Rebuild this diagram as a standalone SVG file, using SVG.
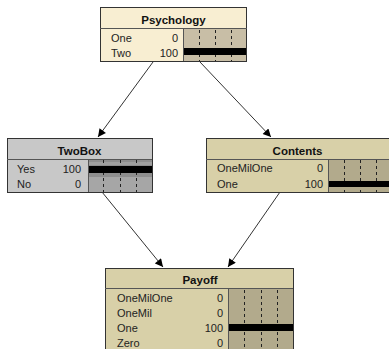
<svg xmlns="http://www.w3.org/2000/svg" width="389" height="349" viewBox="0 0 389 349">
<defs>
<marker id="ah" viewBox="0 0 10 10" refX="10" refY="5" markerWidth="9" markerHeight="8" markerUnits="userSpaceOnUse" orient="auto">
<path d="M0,0 L10,5 L0,10 z" fill="#000"/>
</marker>
<style>
.box{stroke:#333;stroke-width:1}
.sep{stroke:#555;stroke-width:1}
.title{font-family:"Liberation Sans",Arial,sans-serif;font-size:11.5px;font-weight:bold;fill:#111;text-anchor:middle}
.lbl{font-family:"Liberation Sans",Arial,sans-serif;font-size:11px;fill:#222}
.val{font-family:"Liberation Sans",Arial,sans-serif;font-size:11px;fill:#222;text-anchor:end}
.dash{stroke:#222;stroke-width:1;stroke-dasharray:3,3}
.edge{stroke:#333;stroke-width:1;fill:none;marker-end:url(#ah)}
</style>
</defs>
<rect width="389" height="349" fill="#fff"/>
<g id="connectors">
<line class="edge" x1="153" y1="62" x2="98" y2="137"/>
<line class="edge" x1="200" y1="62" x2="271" y2="137"/>
<line class="edge" x1="102" y1="192" x2="163" y2="267"/>
<line class="edge" x1="280" y1="192" x2="228" y2="267"/>
</g>
<g id="Psychology">
<rect class="box" x="100.5" y="7.5" width="146" height="54" fill="#F8EED2"/>
<rect x="183" y="29" width="63" height="32" fill="#C8BEA6"/>
<line class="sep" x1="100" y1="28.5" x2="247" y2="28.5"/>
<line class="sep" x1="183.5" y1="29" x2="183.5" y2="61"/>
<line class="dash" x1="199.5" y1="30" x2="199.5" y2="61"/>
<line class="dash" x1="215.5" y1="30" x2="215.5" y2="61"/>
<line class="dash" x1="231.5" y1="30" x2="231.5" y2="61"/>
<rect x="184" y="48" width="62" height="7" fill="#000"/>
<text class="title" x="173.5" y="24">Psychology</text>
<text class="lbl" x="111" y="42">One</text><text class="val" x="178" y="42">0</text>
<text class="lbl" x="111" y="57">Two</text><text class="val" x="178" y="57">100</text>
</g>
<g id="TwoBox">
<rect class="box" x="7.5" y="138.5" width="145" height="54" fill="#C8C8C8"/>
<rect x="88" y="160" width="64" height="32" fill="#A6A6A6"/>
<rect x="88" y="160" width="64" height="17" fill="#8E8E8E"/>
<rect x="88" y="162" width="64" height="3" fill="#A0A0A0"/>
<line class="sep" x1="7" y1="159.5" x2="152" y2="159.5"/>
<line class="sep" x1="88.5" y1="160" x2="88.5" y2="192"/>
<line class="dash" x1="103.5" y1="160" x2="103.5" y2="192"/>
<line class="dash" x1="120.5" y1="160" x2="120.5" y2="192"/>
<line class="dash" x1="136.5" y1="160" x2="136.5" y2="192"/>
<rect x="89" y="166" width="63" height="7" fill="#000"/>
<text class="title" x="79.5" y="155">TwoBox</text>
<text class="lbl" x="17" y="173">Yes</text><text class="val" x="81" y="173">100</text>
<text class="lbl" x="17" y="188">No</text><text class="val" x="81" y="188">0</text>
</g>
<g id="Contents">
<rect class="box" x="206.5" y="138.5" width="184" height="54" fill="#D8D0A8"/>
<rect x="328" y="160" width="61" height="32" fill="#B2AA8C"/>
<line class="sep" x1="206" y1="159.5" x2="389" y2="159.5"/>
<line class="sep" x1="328.5" y1="160" x2="328.5" y2="192"/>
<line class="dash" x1="344.5" y1="160" x2="344.5" y2="192"/>
<line class="dash" x1="360.5" y1="160" x2="360.5" y2="192"/>
<line class="dash" x1="376.5" y1="160" x2="376.5" y2="192"/>
<rect x="329" y="181" width="60" height="6" fill="#000"/>
<text class="title" x="297.5" y="155">Contents</text>
<text class="lbl" x="217" y="172">OneMilOne</text><text class="val" x="323" y="172">0</text>
<text class="lbl" x="217" y="188">One</text><text class="val" x="323" y="188">100</text>
</g>
<g id="Payoff">
<rect class="box" x="105.5" y="268.5" width="188" height="85" fill="#D8D0A8"/>
<rect x="228" y="289" width="65" height="60" fill="#B2AA8C"/>
<line class="sep" x1="105" y1="288.5" x2="293" y2="288.5"/>
<line class="sep" x1="228.5" y1="289" x2="228.5" y2="349"/>
<line class="dash" x1="244.5" y1="290" x2="244.5" y2="349"/>
<line class="dash" x1="261.5" y1="290" x2="261.5" y2="349"/>
<line class="dash" x1="277.5" y1="290" x2="277.5" y2="349"/>
<rect x="229" y="324" width="64" height="7" fill="#000"/>
<text class="title" x="200" y="284">Payoff</text>
<text class="lbl" x="117" y="302">OneMilOne</text><text class="val" x="223" y="302">0</text>
<text class="lbl" x="117" y="317">OneMil</text><text class="val" x="223" y="317">0</text>
<text class="lbl" x="117" y="332">One</text><text class="val" x="223" y="332">100</text>
<text class="lbl" x="117" y="347">Zero</text><text class="val" x="223" y="347">0</text>
</g>
</svg>
